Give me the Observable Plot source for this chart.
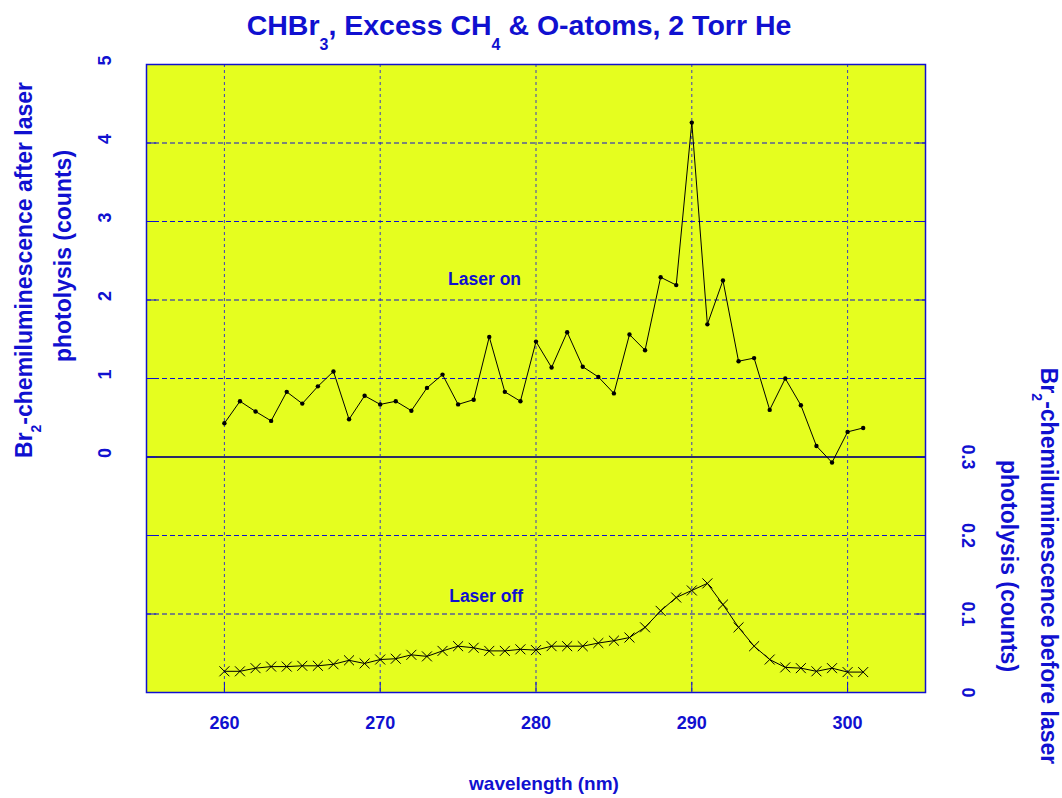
<!DOCTYPE html>
<html>
<head>
<meta charset="utf-8">
<script src="https://cdn.jsdelivr.net/npm/d3@7"></script>
<script src="https://cdn.jsdelivr.net/npm/@observablehq/plot@0.6"></script>
<style>
  html, body { margin: 0; padding: 0; background: #ffffff; }
  #chart svg { display: block; }
</style>
</head>
<body>
<div id="chart"></div>
<script>
// ---- data ----
const wavelengths = [260,261,262,263,264,265,266,267,268,269,270,271,272,273,274,275,276,277,278,279,280,
                     281,282,283,284,285,286,287,288,289,290,291,292,293,294,295,296,297,298,299,300,301];
// Laser on (left axis, counts)
const laserOn = [0.43,0.71,0.58,0.46,0.83,0.68,0.90,1.09,0.48,0.78,0.67,0.71,0.59,0.88,1.05,0.67,0.73,1.53,0.83,0.71,1.47,
                 1.14,1.59,1.15,1.02,0.81,1.56,1.36,2.29,2.19,4.26,1.69,2.25,1.22,1.26,0.60,1.00,0.66,0.14,-0.07,0.32,0.37];
// Laser off (right axis, counts)
const laserOff = [0.027,0.027,0.031,0.033,0.033,0.034,0.034,0.036,0.041,0.037,0.042,0.043,0.048,0.046,0.053,0.059,0.057,0.053,0.053,0.055,0.054,
                  0.059,0.059,0.059,0.063,0.066,0.070,0.083,0.104,0.121,0.130,0.139,0.112,0.083,0.059,0.042,0.032,0.031,0.027,0.031,0.026,0.026];

const xTicks = [260, 270, 280, 290, 300];
const leftTicks = [0, 1, 2, 3, 4, 5];
const rightTicks = [0, 0.1, 0.2, 0.3];
const gridY = [-2, -1, 1, 2, 3, 4, 5];
const labels = [
  {x: 276.7, y: 2.26, text: "Laser on"},
  {x: 276.8, y: -1.78, text: "Laser off"}
];

// ---- styling ----
const BLUE = "#1010d0";
const YELLOW = "#e5fe1f";
const FONT = "'Liberation Sans', Arial, Helvetica, sans-serif";

// right axis (before photolysis) mapped onto the left scale: 0 -> -3, 0.3 -> 0
const toLeft = v => v * 10 - 3;

const onData = wavelengths.map((w, i) => ({w, v: laserOn[i]}));
const offData = wavelengths.map((w, i) => ({w, v: laserOff[i]}));

const plot = Plot.plot({
  width: 1062,
  height: 798,
  marginLeft: 146,
  marginRight: 137,
  marginTop: 64,
  marginBottom: 106,
  style: {fontFamily: FONT, background: "#ffffff", overflow: "visible"},
  x: {domain: [255, 305], axis: null},
  y: {domain: [-3, 5], axis: null},
  marks: [
    Plot.frame({fill: YELLOW, stroke: null}),
    Plot.ruleX(xTicks, {stroke: "#3b3bbf", strokeWidth: 1, strokeDasharray: "3,3"}),
    Plot.ruleY(gridY, {stroke: BLUE, strokeWidth: 1, strokeDasharray: "5,3"}),
    Plot.ruleY([0], {stroke: "#2c2c66", strokeWidth: 2}),
    // inner tick marks
    Plot.ruleX(xTicks, {y1: -3, y2: -2.87, stroke: BLUE, strokeWidth: 1}),
    Plot.ruleY(gridY.concat([0]), {x1: 255, x2: 255.65, stroke: BLUE, strokeWidth: 1}),
    Plot.ruleY(gridY.concat([0]), {x1: 304.45, x2: 305, stroke: BLUE, strokeWidth: 1}),
    // laser on
    Plot.line(onData, {x: "w", y: "v", stroke: "#000", strokeWidth: 1}),
    Plot.dot(onData, {x: "w", y: "v", r: 2.2, fill: "#000", stroke: null}),
    // laser off
    Plot.line(offData, {x: "w", y: d => toLeft(d.v), stroke: "#000", strokeWidth: 1}),
    Plot.dot(offData, {x: "w", y: d => toLeft(d.v), symbol: "times", r: 4.6, stroke: "#000", strokeWidth: 1}),
    // annotations
    Plot.text(labels, {x: "x", y: "y", text: "text", fill: BLUE, fontSize: 17.5, fontWeight: "bold"}),
    // x tick labels
    Plot.text(xTicks, {x: d => d, frameAnchor: "bottom", dy: 36, text: d => String(d),
      fill: BLUE, fontSize: 18, fontWeight: "bold"}),
    // left tick labels (rotated)
    Plot.text(leftTicks, {y: d => d, frameAnchor: "left", textAnchor: "middle", dx: -41, dy: -4, rotate: -90,
      text: d => String(d), fill: BLUE, fontSize: 18, fontWeight: "bold"}),
    // right tick labels (rotated)
    Plot.text(rightTicks, {y: d => toLeft(d), frameAnchor: "right", textAnchor: "middle", dx: 42, rotate: 90,
      text: d => String(d), fill: BLUE, fontSize: 18, fontWeight: "bold"}),
    Plot.frame({stroke: BLUE, strokeWidth: 1.5})
  ]
});

document.getElementById("chart").appendChild(plot);

// ---- titles with subscripts ----
const svg = d3.select(plot);
function richText(x, y, rotate, parts, size, subSize, subShift) {
  const t = svg.append("text")
    .attr("transform", `translate(${x},${y}) rotate(${rotate})`)
    .attr("text-anchor", "middle")
    .attr("font-family", FONT)
    .attr("font-weight", "bold")
    .attr("font-size", size)
    .attr("fill", BLUE);
  let shifted = false;
  parts.forEach(p => {
    const s = t.append("tspan");
    if (typeof p === "string") {
      s.text(p);
      if (shifted) { s.attr("dy", -subShift); shifted = false; }
    } else {
      s.text(p.sub).attr("font-size", subSize).attr("dy", subShift);
      shifted = true;
    }
  });
  return t;
}

richText(519, 35, 0, ["CHBr", {sub: "3"}, ", Excess CH", {sub: "4"}, " & O-atoms, 2 Torr He"], 28.5, 16, 15);

richText(32, 270, -90, ["Br", {sub: "2"}, "-chemiluminescence after laser"], 23, 14, 9);
richText(71, 256, -90, ["photolysis (counts)"], 23, 14, 9);

richText(1041, 566, 90, ["Br", {sub: "2"}, "-chemiluminescence before laser"], 23, 14, 9);
richText(1001, 566, 90, ["photolysis (counts)"], 23, 14, 9);

richText(544, 790, 0, ["wavelength (nm)"], 19, 14, 9);
</script>
</body>
</html>
